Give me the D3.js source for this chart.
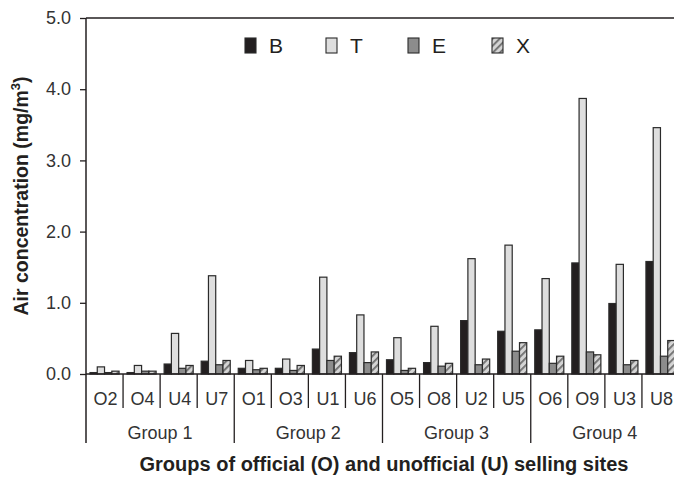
<!DOCTYPE html>
<html>
<head>
<meta charset="utf-8">
<script src="https://cdn.jsdelivr.net/npm/d3@7"></script>
<style>
  body { margin: 0; background: #fff; }
  svg { display: block; font-family: "Liberation Sans", Arial, sans-serif; }
</style>
</head>
<body>
<svg id="chart" width="674" height="479"></svg>
<script>
// data
const groups = ["Group 1", "Group 2", "Group 3", "Group 4"];
const sites = ["O2", "O4", "U4", "U7", "O1", "O3", "U1", "U6", "O5", "O8", "U2", "U5", "O6", "O9", "U3", "U8"];
const siteGroup = [0, 0, 0, 0, 1, 1, 1, 1, 2, 2, 2, 2, 3, 3, 3, 3];
const compounds = ["B", "T", "E", "X"];
const valuesB = [0.02, 0.02, 0.14, 0.18, 0.08, 0.08, 0.35, 0.30, 0.20, 0.16, 0.75, 0.60, 0.62, 1.56, 0.99, 1.58];
const valuesT = [0.10, 0.12, 0.57, 1.38, 0.19, 0.21, 1.36, 0.83, 0.51, 0.67, 1.62, 1.81, 1.34, 3.87, 1.54, 3.46];
const valuesE = [0.02, 0.04, 0.08, 0.13, 0.06, 0.05, 0.19, 0.16, 0.05, 0.11, 0.13, 0.32, 0.15, 0.31, 0.13, 0.25];
const valuesX = [0.04, 0.04, 0.12, 0.19, 0.08, 0.12, 0.25, 0.31, 0.08, 0.15, 0.21, 0.44, 0.25, 0.27, 0.19, 0.47];
const yTicks = [0, 1, 2, 3, 4, 5];

const series = [valuesB, valuesT, valuesE, valuesX];
const fills = { B: "#231f20", T: "#dedede", E: "#8c8c8c", X: "url(#hatch)" };
const ink = "#231f20";

const svg = d3.select("#chart");
const mLeft = 86, mRight = 679, mTop = 18, mBottom = 374;

// hatch pattern for X
const defs = svg.append("defs");
const pat = defs.append("pattern")
  .attr("id", "hatch")
  .attr("patternUnits", "userSpaceOnUse")
  .attr("width", 5).attr("height", 5)
  .attr("patternTransform", "rotate(45)");
pat.append("rect").attr("width", 5).attr("height", 5).attr("fill", "#d4d4d4");
pat.append("rect").attr("width", 1.8).attr("height", 5).attr("fill", "#6e6e6e");

const x = d3.scaleBand().domain(sites).range([mLeft, mRight]);
const xs = d3.scaleBand().domain(compounds).range([4, x.bandwidth() - 4]);
const y = d3.scaleLinear().domain([0, 5]).range([mBottom, mTop]);

// bars
const rows = sites.map((s, i) => ({ site: s, vals: compounds.map((c, k) => ({ c: c, v: series[k][i] })) }));

const siteG = svg.append("g").selectAll("g")
  .data(rows)
  .join("g")
  .attr("transform", d => "translate(" + x(d.site) + ",0)");

siteG.selectAll("rect")
  .data(d => d.vals)
  .join("rect")
  .attr("x", d => xs(d.c))
  .attr("width", xs.bandwidth())
  .attr("y", d => y(d.v))
  .attr("height", d => y(0) - y(d.v))
  .attr("fill", d => fills[d.c])
  .attr("stroke", "#2b2b2b")
  .attr("stroke-width", 1.2);

// top border and baseline
svg.append("line")
  .attr("x1", mLeft).attr("x2", 674).attr("y1", mTop).attr("y2", mTop)
  .attr("stroke", ink).attr("stroke-width", 1.5);
svg.append("line")
  .attr("x1", mLeft).attr("x2", 674).attr("y1", mBottom).attr("y2", mBottom)
  .attr("stroke", ink).attr("stroke-width", 1.5);

// y axis
const yAxis = svg.append("g")
  .attr("transform", "translate(" + mLeft + ",0)")
  .call(d3.axisLeft(y).tickValues(yTicks).tickFormat(d3.format(".1f")).tickSize(6).tickPadding(9));
yAxis.select(".domain").remove();
yAxis.selectAll(".tick line").attr("stroke", ink).attr("stroke-width", 1.3);
yAxis.selectAll(".tick text")
  .attr("font-size", 18)
  .attr("font-family", "'Liberation Sans', Arial, sans-serif")
  .attr("fill", "#333");

svg.append("line")
  .attr("x1", mLeft).attr("x2", mLeft).attr("y1", mTop).attr("y2", 443)
  .attr("stroke", ink).attr("stroke-width", 1.5);

// site ticks and labels
svg.append("g").selectAll("line")
  .data(sites.slice(1))
  .join("line")
  .attr("x1", d => x(d)).attr("x2", d => x(d))
  .attr("y1", mBottom).attr("y2", d => siteGroup[sites.indexOf(d)] !== siteGroup[sites.indexOf(d) - 1] ? 443 : 408)
  .attr("stroke", ink).attr("stroke-width", 1.3);

svg.append("g").selectAll("text")
  .data(sites)
  .join("text")
  .attr("x", d => x(d) + x.bandwidth() / 2 + 1)
  .attr("y", 405)
  .attr("text-anchor", "middle")
  .attr("font-size", 18)
  .attr("fill", "#333")
  .text(d => d);

// group labels
svg.append("g").selectAll("text")
  .data(groups)
  .join("text")
  .attr("x", (d, i) => x(sites[i * 4]) + 2 * x.bandwidth())
  .attr("y", 439)
  .attr("text-anchor", "middle")
  .attr("font-size", 18)
  .attr("fill", "#333")
  .text(d => d);

// axis titles
svg.append("text")
  .attr("x", 384).attr("y", 471)
  .attr("text-anchor", "middle")
  .attr("font-size", 20)
  .attr("font-weight", "bold")
  .attr("fill", ink)
  .text("Groups of official (O) and unofficial (U) selling sites");

const yt = svg.append("text")
  .attr("transform", "translate(28,196) rotate(-90)")
  .attr("text-anchor", "middle")
  .attr("font-size", 19.5)
  .attr("font-weight", "bold")
  .attr("fill", ink);
yt.append("tspan").text("Air concentration (mg/m");
yt.append("tspan").attr("font-size", 13).attr("dy", -8).text("3");
yt.append("tspan").attr("dy", 8).text(")");

// legend
const legendX = [245, 326, 408, 492];
const lg = svg.append("g").selectAll("g")
  .data(compounds)
  .join("g")
  .attr("transform", (d, i) => "translate(" + legendX[i] + ",38)");
lg.append("rect")
  .attr("width", 11).attr("height", 15)
  .attr("fill", d => fills[d])
  .attr("stroke", "#2b2b2b").attr("stroke-width", 1.1);
lg.append("text")
  .attr("x", 24).attr("y", 15)
  .attr("font-size", 21)
  .attr("fill", ink)
  .text(d => d);
</script>
</body>
</html>
